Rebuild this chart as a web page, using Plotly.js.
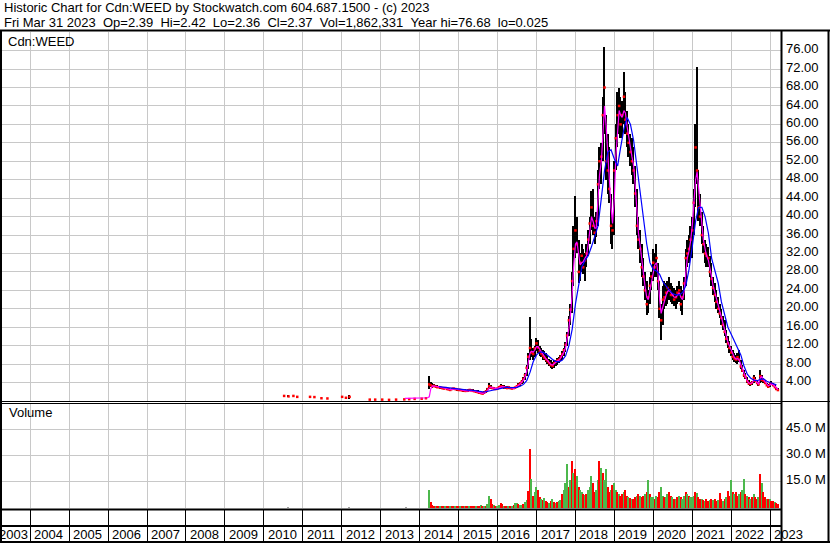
<!DOCTYPE html>
<html><head><meta charset="utf-8">
<script src="https://cdn.plot.ly/plotly-3.0.1.min.js"></script>
<style>html,body{margin:0;padding:0;background:#fff}#chart{width:830px;height:543px}</style>
</head><body><div id="chart"></div>
<script>
// ---------- DATA (semi-monthly bars from 2014-04-01 to 2023-03-15) ----------
const priceHigh = [
 5.4,4.2,3.8,3.6,3.5,3.4,3.3,3.2,3.1,3.0,3.0,2.9,2.8,2.7,2.8,2.9,2.8,2.7,
 2.6,2.6,2.6,2.5,2.5,2.4,2.5,2.6,2.6,2.5,2.4,2.3,2.3,2.2,2.0,1.9,2.1,2.3,2.8,4.0,3.4,3.1,3.0,2.9,
 2.9,3.2,3.7,3.5,3.4,3.3,3.2,3.3,3.1,3.0,3.0,3.1,3.4,3.8,4.1,4.5,5.2,6.0,7.8,10.5,18.3,13.5,11.5,12.0,
 13.7,13.2,12.0,11.5,11.0,10.8,10.5,9.8,9.2,8.8,8.5,8.8,9.0,9.4,9.6,10.0,10.8,11.5,12.8,15.0,18.5,21.0,28.0,38.0,
 44.5,40.0,35.0,32.0,34.0,33.0,32.0,34.0,37.0,40.0,45.5,46.0,40.0,41.0,50.0,55.0,56.0,66.0,76.68,62.0,58.0,55.0,45.0,40.0,
 52.0,60.0,67.0,68.0,66.0,65.0,71.4,67.0,63.0,60.0,58.0,57.0,55.0,51.0,46.0,40.0,37.0,34.0,31.0,28.0,26.0,24.0,27.0,28.0,
 33.0,32.0,34.0,30.0,26.0,21.0,25.0,26.0,25.5,26.0,27.0,25.5,25.0,24.5,24.0,25.0,26.0,25.0,24.0,27.0,33.0,35.0,36.0,38.0,
 40.0,46.0,60.0,72.4,50.0,45.0,41.0,38.0,35.0,34.0,33.5,31.5,30.0,27.0,25.5,24.0,22.5,21.0,20.0,18.5,17.5,15.5,14.0,13.0,
 12.0,11.0,10.5,10.0,10.5,11.0,9.0,7.8,6.8,6.0,5.3,4.6,4.2,4.3,5.6,5.2,4.6,4.2,6.7,5.6,5.0,4.6,4.0,3.6,
 4.2,4.4,3.9,3.5,3.1,2.8];
const priceLow = [
 2.6,3.0,2.9,3.0,2.9,2.8,2.8,2.7,2.6,2.5,2.5,2.4,2.3,2.2,2.3,2.4,2.4,2.3,
 2.2,2.2,2.1,2.1,2.1,2.0,2.0,2.1,2.2,2.1,2.0,1.9,1.8,1.6,1.5,1.45,1.5,1.8,2.0,2.5,2.6,2.5,2.5,2.4,
 2.4,2.6,2.8,2.8,2.7,2.6,2.6,2.6,2.5,2.5,2.5,2.6,2.8,3.0,3.3,3.6,4.0,4.6,5.4,7.0,9.0,9.5,9.0,9.5,
 10.8,10.5,9.8,9.5,9.0,8.8,8.5,8.0,7.6,7.2,7.0,7.2,7.6,7.9,8.2,8.6,9.0,9.8,10.6,12.0,14.0,16.5,19.0,25.0,
 31.0,32.0,25.5,26.0,28.0,27.5,26.0,29.0,31.5,34.0,37.0,36.0,34.0,35.5,38.0,46.0,47.0,52.0,58.0,48.0,45.0,43.0,34.0,33.0,
 36.0,50.0,55.0,58.0,57.0,57.0,60.0,58.0,55.0,53.0,51.0,49.0,47.0,42.0,36.0,33.0,30.0,27.0,25.0,22.0,18.6,19.0,21.0,24.0,
 26.0,27.0,27.0,24.0,18.0,13.2,16.5,20.0,20.5,21.0,22.0,21.5,21.0,20.5,20.0,21.0,21.5,19.5,18.6,22.0,25.0,29.0,30.0,31.0,
 31.0,36.0,42.0,47.0,39.0,38.0,34.0,32.0,30.0,29.0,29.0,27.0,25.0,23.0,21.5,20.0,19.0,18.0,16.5,15.5,14.0,12.5,11.5,10.5,
 9.8,9.0,8.5,8.2,8.0,8.5,7.0,6.2,5.2,4.8,4.0,3.4,3.3,3.4,3.8,4.1,3.6,3.3,3.8,4.2,4.0,3.6,3.2,2.9,
 3.0,3.5,3.2,2.9,2.4,2.3];
const priceClose = [
 3.6,3.4,3.2,3.3,3.1,3.0,3.0,2.9,2.8,2.7,2.8,2.6,2.5,2.4,2.6,2.7,2.6,2.5,
 2.4,2.4,2.3,2.3,2.2,2.2,2.3,2.4,2.3,2.2,2.1,2.0,1.9,1.8,1.7,1.6,1.9,2.1,2.6,3.2,2.9,2.8,2.7,2.6,
 2.7,3.0,3.2,3.1,3.0,2.9,2.8,3.0,2.8,2.7,2.8,2.9,3.2,3.5,3.8,4.2,4.8,5.6,7.2,9.6,11.5,10.5,10.2,11.4,
 12.5,11.6,10.8,10.3,9.8,9.4,9.0,8.6,8.2,7.8,7.6,8.2,8.6,8.8,9.0,9.6,10.2,11.0,12.2,14.2,17.5,19.8,26.0,33.0,
 37.0,34.0,28.0,30.0,31.5,29.0,30.5,32.0,35.0,38.5,42.0,38.0,36.5,39.0,47.0,52.0,53.0,62.0,68.0,52.0,50.0,46.0,38.0,37.0,
 50.0,57.0,62.0,64.0,60.0,62.0,66.0,61.0,58.0,56.0,54.0,52.0,50.0,45.0,38.0,35.0,33.0,29.0,27.0,24.0,21.0,22.5,25.0,27.0,
 30.0,29.0,31.0,26.0,20.0,17.5,22.0,22.5,23.5,24.5,24.0,23.0,23.0,22.0,22.5,23.5,24.0,21.0,22.5,25.5,31.0,32.0,33.0,35.0,
 37.0,43.0,55.0,50.0,42.0,40.0,36.0,34.0,32.0,31.5,31.0,28.0,26.5,24.5,23.0,21.5,20.0,19.0,18.0,16.5,15.0,13.5,12.5,11.5,
 10.5,9.6,9.2,9.0,9.5,9.0,7.5,6.6,5.6,5.2,4.3,3.8,3.7,4.0,5.0,4.4,3.9,3.6,5.4,4.6,4.4,3.9,3.4,3.1,
 3.8,3.7,3.4,3.0,2.6,2.37];
const maShort = [
 0.9,2.6,3.3,3.3,3.2,3.1,3.05,2.95,2.85,2.75,2.7,2.65,2.55,2.45,2.5,2.6,2.6,2.55,
 2.45,2.4,2.35,2.3,2.25,2.2,2.25,2.3,2.3,2.25,2.15,2.05,1.95,1.85,1.75,1.65,1.75,1.95,2.3,2.8,3.0,2.85,2.75,2.65,
 2.7,2.85,3.05,3.1,3.05,2.95,2.9,2.95,2.85,2.75,2.75,2.85,3.05,3.35,3.7,4.0,4.5,5.2,6.4,8.3,10.4,10.8,10.6,11.0,
 11.8,11.8,11.2,10.6,10.0,9.6,9.1,8.8,8.3,7.9,7.8,8.0,8.4,8.7,8.9,9.3,9.9,10.6,11.6,13.2,15.8,18.6,23.0,29.0,
 34.0,34.5,31.0,29.5,30.0,30.2,31.0,31.5,34.0,37.0,40.0,39.0,37.5,37.5,43.0,49.0,52.0,58.0,64.0,60.0,53.0,48.5,42.0,38.5,
 44.0,53.0,60.0,63.0,62.0,61.5,63.0,62.5,59.5,57.0,55.0,53.0,51.0,47.0,40.5,36.5,33.5,30.5,27.5,25.0,22.5,22.0,24.0,26.0,
 28.5,29.5,30.0,27.5,22.0,19.0,20.5,22.0,23.0,23.8,24.0,23.5,23.0,22.5,22.5,23.0,23.5,22.5,22.0,23.5,28.0,31.0,32.5,34.5,
 38.0,42.0,48.0,49.7,46.0,42.0,38.0,35.0,33.0,31.5,30.5,29.0,27.0,25.0,23.5,22.0,20.5,19.3,18.2,17.0,15.5,14.0,12.8,12.0,
 11.0,10.0,9.4,9.1,9.2,9.0,7.8,6.8,5.8,5.2,4.4,3.9,3.8,3.9,4.5,4.6,4.0,3.7,5.0,5.3,4.6,4.1,3.6,3.3,
 3.5,3.7,3.5,3.1,2.75,2.5];
const volumeM = [
 10.4,3.5,1.8,1.2,1.0,0.8,0.7,0.8,0.6,0.7,0.8,0.6,0.7,0.9,0.8,0.6,0.7,0.8,
 0.7,0.8,0.9,0.7,0.6,0.6,0.8,1.0,1.2,0.8,0.6,0.7,0.8,0.9,1.5,1.2,0.8,1.0,2.0,6.8,5.0,2.2,1.5,1.2,
 1.0,1.5,3.0,2.0,1.2,0.9,0.8,1.0,1.2,0.9,1.5,2.8,3.0,2.2,1.8,1.5,2.5,3.5,4.5,9.5,33.5,16.7,7.0,9.0,
 12.0,10.0,6.0,5.0,4.5,5.5,4.0,3.5,3.0,4.0,5.0,3.5,3.0,3.5,4.0,4.5,8.0,10.5,14.0,25.0,12.0,16.0,27.0,20.0,
 22,18,12,10,9,8,7.5,8,10,12,18,14,9,10,16,27,23,20,16,22.5,12,9,10,13,
 14,10,9,8,7,8,9,10,7,6,5.5,5,5,6,7,8,7,6,7,8,9,16,8,6,
 6,5,7,6,9,12,7,6,6,8,9,7,6,5,5,6,7,6,5,7,9,8,7,6,
 6,7,9,8.6,6,5,5,4.5,4,5,4,4.5,5,4.5,5,4,4.5,8.5,5,4,5,6,9.5,7,
 16,9,8,9.4,7,8,9,10,16.5,8,7,6,5,6,8,6,5,6,19.5,14,9,6,5,5,
 5,4,4,3.5,3,2.5];
// 1 = up volume (green), 0 = down volume (red)
const volumeUp = [
 1,0,0,0,1,0,0,1,0,0,1,0,0,1,0,0,1,0,
 0,1,0,0,1,0,0,1,0,0,0,1,0,0,1,0,1,0,1,1,0,0,1,0,
 1,1,0,0,1,0,0,1,0,1,0,1,1,0,1,1,0,1,1,0,0,1,0,1,
 1,0,0,1,0,1,0,0,1,0,1,0,1,0,1,1,0,1,1,1,0,1,0,1,
 0,1,0,1,1,0,1,0,1,1,1,0,0,1,1,0,1,0,1,1,0,0,1,0,
 1,1,0,1,0,0,1,0,0,1,0,1,0,0,1,0,1,0,0,1,0,1,0,1,
 1,0,1,0,0,1,1,0,1,1,0,0,1,0,1,0,1,0,1,1,0,1,0,1,
 1,1,0,1,0,0,1,0,1,0,0,1,0,1,0,0,1,0,0,1,0,1,0,0,
 1,0,1,0,0,1,0,1,1,0,1,0,1,0,1,0,0,1,0,1,0,0,1,0,
 1,0,0,1,0,0];
// longer moving average, monthly from 2014-07
const maLong = [
 3.1,3.0,2.9,2.8,2.7,2.65,
 2.6,2.5,2.4,2.35,2.35,2.3,2.2,2.05,1.95,2.1,2.35,2.55,
 2.7,2.85,3.0,3.0,2.9,2.85,2.95,3.2,3.6,4.4,6.2,8.5,
 10.0,10.6,10.6,10.2,9.6,9.0,8.6,8.5,8.9,9.8,12.0,15.5,
 21.0,25.5,29.0,30.5,31.5,33.5,35.5,38.0,44.0,50.0,54.0,54.5,
 52.5,51.0,55.0,59.0,61.5,60.0,56.5,51.0,45.0,39.0,34.0,30.0,
 28.5,28.2,27.5,25.8,24.8,24.0,23.3,23.0,23.0,23.5,25.0,28.5,
 33.5,39.0,42.0,42.0,40.0,36.4,31.0,28.0,25.6,21.5,18.5,16.0,
 14.5,13.0,11.5,10.0,7.6,5.8,5.0,4.5,4.4,4.7,4.8,4.3,
 4.0,3.7,3.5];
// pre-listing (shell) trades
const preDates = ['2010-07-10','2010-08-20','2010-10-05','2010-11-10','2011-03-10','2011-04-20','2011-06-25','2011-08-20','2012-01-05','2012-02-10','2012-03-15','2012-09-20','2012-11-10','2013-01-15','2013-03-20','2013-05-25','2013-08-10','2013-09-25','2013-11-15','2014-01-20','2014-03-01'];
const preClose = [1.1,1.0,1.1,0.9,0.9,0.85,0.6,0.55,0.9,0.7,0.9,0.3,0.3,0.3,0.25,0.3,0.35,0.4,0.45,0.5,0.6];
const preBarDates = ['2010-08-20','2012-03-15'];
const preBarHigh = [1.3,1.3];
const preBarLow = [0.8,0.4];
const preMaDates = ['2013-08-15','2013-11-01','2014-01-15','2014-03-15'];
const preMa = [0.55,0.6,0.6,0.7];
const preVolDates = ['2010-08-20','2012-03-15','2013-09-01'];
const preVol = [0.3,0.3,0.4];

const priceTicks = [4,8,12,16,20,24,28,32,36,40,44,48,52,56,60,64,68,72,76];
const volTicks = [15,30,45];
const years = [2004,2005,2006,2007,2008,2009,2010,2011,2012,2013,2014,2015,2016,2017,2018,2019,2020,2021,2022,2023];

// ---------- calendar helpers ----------
function pad(n){return (n<10?'0':'')+n;}
function semiMonthly(y,m,n){const o=[];let k=0;while(o.length<n){const yy=y+Math.floor((m-1+k)/12), mm=(m-1+k)%12+1;o.push(yy+'-'+pad(mm)+'-01');if(o.length<n)o.push(yy+'-'+pad(mm)+'-15');k++;}return o;}
function monthly(y,m,n){const o=[];for(let k=0;k<n;k++){const yy=y+Math.floor((m-1+k)/12), mm=(m-1+k)%12+1;o.push(yy+'-'+pad(mm)+'-01');}return o;}
const dates = semiMonthly(2014,4,priceClose.length);
const maLongDates = monthly(2014,7,maLong.length);

const W = 830, H = 543;
const px = x => x/W, py = y => 1 - y/H;
const barW = 13*86400000;
const GREEN = '#4cb84c', RED = '#ff0000', GRAY = '#a0a0a0';
const volColors = volumeUp.map(u => u ? GREEN : RED);

const traces = [
 {type:'bar', x:preBarDates, y:preBarHigh.map((h,i)=>h-preBarLow[i]), base:preBarLow, width:barW, marker:{color:'#000',line:{width:0}}, xaxis:'x', yaxis:'y', hoverinfo:'skip'},
 {type:'bar', x:dates, y:priceHigh.map((h,i)=>h-priceLow[i]), base:priceLow, width:barW, marker:{color:'#000',line:{width:0}}, xaxis:'x', yaxis:'y', hoverinfo:'skip'},
 {type:'scatter', mode:'markers', x:preDates.concat(dates), y:preClose.concat(priceClose), marker:{symbol:'square', size:2.5, color:RED, line:{width:0}}, xaxis:'x', yaxis:'y', hoverinfo:'skip'},
 {type:'scatter', mode:'lines', x:preMaDates.concat(dates), y:preMa.concat(maShort), line:{color:'#ff00ff', width:1.2}, xaxis:'x', yaxis:'y', hoverinfo:'skip'},
 {type:'scatter', mode:'lines', x:maLongDates, y:maLong, line:{color:'#0000ff', width:1.2}, xaxis:'x', yaxis:'y', hoverinfo:'skip'},
 {type:'bar', x:preVolDates, y:preVol, width:barW, marker:{color:GRAY,line:{width:0}}, xaxis:'x', yaxis:'y2', hoverinfo:'skip'},
 {type:'bar', x:dates, y:volumeM, width:barW, marker:{color:volColors,line:{width:0}}, xaxis:'x', yaxis:'y2', hoverinfo:'skip'}
];

const FONT = {family:'"Liberation Sans", Arial, sans-serif', size:13, color:'#000'};
function hline(y,x0,x1,w){return {type:'line',xref:'paper',yref:'paper',x0:px(x0),x1:px(x1),y0:py(y),y1:py(y),line:{color:'#000',width:w}};}
function vline(x,y0,y1,w){return {type:'line',xref:'paper',yref:'paper',x0:px(x),x1:px(x),y0:py(y0),y1:py(y1),line:{color:'#000',width:w}};}

const annotations = [
 {text:'Historic Chart for Cdn:WEED by Stockwatch.com 604.687.1500 - (c) 2023', xref:'paper', yref:'paper', x:px(2), y:py(8), xanchor:'left', yanchor:'middle', showarrow:false, font:FONT},
 {text:'Fri Mar 31 2023\u00a0\u00a0Op=2.39\u00a0\u00a0Hi=2.42\u00a0\u00a0Lo=2.36\u00a0\u00a0Cl=2.37\u00a0\u00a0Vol=1,862,331\u00a0\u00a0Year hi=76.68\u00a0\u00a0lo=0.025', xref:'paper', yref:'paper', x:px(2), y:py(22), xanchor:'left', yanchor:'middle', showarrow:false, font:FONT},
 {text:'Cdn:WEED', xref:'paper', yref:'paper', x:px(6), y:py(41), xanchor:'left', yanchor:'middle', showarrow:false, font:FONT},
 {text:'Volume', xref:'paper', yref:'paper', x:px(7), y:py(413), xanchor:'left', yanchor:'middle', showarrow:false, font:FONT},
 {text:'2003', xref:'x', yref:'paper', x:'2004-01-01', y:py(534), xanchor:'right', xshift:0, yanchor:'middle', showarrow:false, font:FONT}
];
years.forEach(y=>annotations.push({text:String(y), xref:'x', yref:'paper', x:y+'-01-01', y:py(534), xanchor:'left', xshift:2, yanchor:'middle', showarrow:false, font:FONT}));

const layout = {
 width:W, height:H, margin:{l:0,r:0,t:0,b:0}, paper_bgcolor:'#fff', plot_bgcolor:'#fff',
 showlegend:false, hovermode:false, bargap:0, font:FONT,
 xaxis:{type:'date', domain:[px(2),px(781)], range:['2003-04-12','2023-04-13'], anchor:'y2',
   showgrid:true, gridcolor:'#c8c8c8', gridwidth:1, tick0:'2004-01-01', dtick:'M12',
   ticks:'outside', ticklen:33, tickcolor:'#000', tickwidth:1, showticklabels:false, showline:false, zeroline:false, fixedrange:true},
 yaxis:{domain:[py(401),py(32)], range:[0,80.04], side:'right', anchor:'x', tickvals:priceTicks, ticktext:priceTicks.map(v=>v.toFixed(2)),
   showgrid:true, gridcolor:'#c8c8c8', gridwidth:1, ticks:'', zeroline:false, showline:false, tickfont:FONT, ticklabelstandoff:4, ticklabelshift:-2, fixedrange:true},
 yaxis2:{domain:[py(508),py(403)], range:[0,59.9], side:'right', anchor:'x', tickvals:volTicks, ticktext:volTicks.map(v=>v.toFixed(1)+' M'),
   showgrid:true, gridcolor:'#c8c8c8', gridwidth:1, ticks:'', zeroline:false, showline:false, tickfont:FONT, ticklabelstandoff:4, ticklabelshift:-2, fixedrange:true},
 shapes:[
   hline(30.5,0,830,2), vline(1,30,543,2), vline(781.5,30,543,2), vline(828.5,30,543,2),
   hline(401.5,0,830,1), hline(403.5,0,781,1), hline(509.5,0,781,2), hline(526,0,781,2), hline(542,0,830,2)
 ],
 annotations:annotations
};
Plotly.newPlot('chart', traces, layout, {displayModeBar:false, responsive:false});
</script></body></html>
